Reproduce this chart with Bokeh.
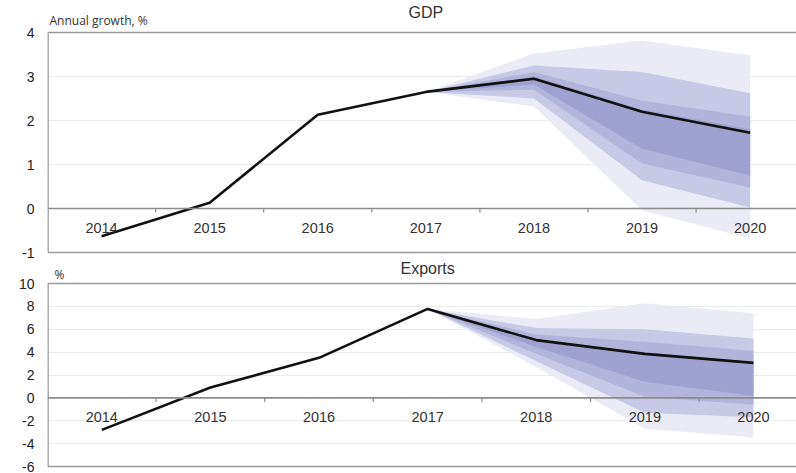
from bokeh.plotting import figure
from bokeh.models import Span, FixedTicker, Range1d
from bokeh.layouts import column
from bokeh.embed import file_html
from bokeh.resources import INLINE
from bokeh.core.properties import value

# ---------------- data ----------------
years = [2014, 2015, 2016, 2017, 2018, 2019, 2020]
year_labels = ["2014", "2015", "2016", "2017", "2018", "2019", "2020"]

gdp = [-0.63, 0.13, 2.13, 2.65, 2.95, 2.20, 1.72]
exports = [-2.80, 0.90, 3.50, 7.78, 5.05, 3.85, 3.06]

fan_years = [2017, 2018, 2019, 2020]

# GDP fan bands, widest (lightest) to narrowest (darkest)
gdp_b1_hi = [2.65, 3.52, 3.82, 3.48]
gdp_b1_lo = [2.65, 2.32, -0.04, -0.68]
gdp_b2_hi = [2.65, 3.25, 3.10, 2.62]
gdp_b2_lo = [2.65, 2.50, 0.64, 0.02]
gdp_b3_hi = [2.65, 3.10, 2.45, 2.09]
gdp_b3_lo = [2.65, 2.70, 1.02, 0.48]
gdp_b4_hi = [2.65, 3.00, 2.25, 1.80]
gdp_b4_lo = [2.65, 2.82, 1.36, 0.75]

# Exports fan bands
exp_b1_hi = [7.78, 6.90, 8.27, 7.40]
exp_b1_lo = [7.78, 2.70, -2.70, -3.47]
exp_b2_hi = [7.78, 6.10, 6.00, 5.20]
exp_b2_lo = [7.78, 3.20, -1.30, -1.70]
exp_b3_hi = [7.78, 5.55, 4.90, 4.10]
exp_b3_lo = [7.78, 3.85, 0.10, -0.60]
exp_b4_hi = [7.78, 5.15, 3.95, 3.15]
exp_b4_lo = [7.78, 4.45, 1.40, 0.17]

gdp_ticks = [-1, 0, 1, 2, 3, 4]
gdp_tick_labels = ["-1", "0", "1", "2", "3", "4"]
exp_ticks = [-6, -4, -2, 0, 2, 4, 6, 8, 10]
exp_tick_labels = ["-6", "-4", "-2", "0", "2", "4", "6", "8", "10"]

band_colors = ["#ebebf6", "#c8c9e6", "#b2b4dc", "#9fa1d1"]

W = 796
FONT = "Liberation Sans"


def make_panel(title, unit, values, bands, ticks, tick_labels, left,
               px_per_year, frame_h, pad_top, pad_bottom, title_gap,
               unit_gap, unit_dx):
    y0, y1 = ticks[0], ticks[-1]
    ppu = frame_h / (y1 - y0)
    frame_w = W - left
    x_start = years[0] - 0.5
    x_end = x_start + frame_w / px_per_year

    p = figure(width=W, height=pad_top + frame_h + pad_bottom,
               x_range=Range1d(x_start, x_end),
               y_range=Range1d(y0 - pad_bottom / ppu, y1 + pad_top / ppu),
               x_axis_location=None, title=None,
               toolbar_location=None, output_backend="svg",
               min_border_left=left, min_border_right=0,
               min_border_top=0, min_border_bottom=0)
    p.background_fill_color = "white"
    p.border_fill_color = "white"
    p.outline_line_color = None

    ax = p.yaxis[0]
    ax.ticker = FixedTicker(ticks=ticks)
    ax.major_label_overrides = dict(zip(ticks, tick_labels))
    ax.major_tick_line_color = None
    ax.minor_tick_line_color = None
    ax.axis_line_color = None
    ax.major_tick_out = 0
    ax.major_tick_in = 0
    ax.major_label_standoff = 13
    ax.major_label_text_font = FONT
    ax.major_label_text_font_size = "14px"
    ax.major_label_text_color = "#222222"

    p.xgrid.visible = False
    p.ygrid.ticker = FixedTicker(ticks=ticks)
    p.ygrid.grid_line_color = "#ebebeb"
    p.ygrid.grid_line_width = 1

    for (hi, lo), col in zip(bands, band_colors):
        p.varea(x=fan_years, y1=lo, y2=hi, fill_color=col, fill_alpha=1.0)

    # chart-area border
    p.quad(left=[x_start + 0.5 / px_per_year], right=[x_end + 1.0],
           bottom=[y0], top=[y1], fill_color=None,
           line_color="#9a9a9a", line_width=1.6)

    p.add_layout(Span(location=0, dimension="width",
                      line_color="#8c8c8c", line_width=1.6))

    bounds = [y + 0.5 for y in years[:-1]]
    p.segment(x0=bounds, y0=[0] * len(bounds), x1=bounds,
              y1=[-4 / ppu] * len(bounds), line_color="#8c8c8c", line_width=1.2)

    p.line(years, values, line_color="#111111", line_width=2.6)

    p.text(x=years, y=[-19 / ppu] * len(years), text=year_labels,
           text_align="center", text_baseline="middle",
           text_font=value(FONT), text_font_size="14.5px", text_color="#333333")

    p.text(x=[sum(years) / len(years)], y=[y1 + title_gap / ppu], text=[title],
           text_align="center", text_baseline="middle",
           text_font=value(FONT), text_font_size="16px", text_color="#333333")
    p.text(x=[x_start + unit_dx / px_per_year], y=[y1 + unit_gap / ppu], text=[unit],
           text_align="left", text_baseline="middle",
           text_font=value("Open Sans"), text_font_size="12px",
           text_color="#333333")
    return p


p1 = make_panel("GDP", "Annual growth, %", gdp,
                [(gdp_b1_hi, gdp_b1_lo), (gdp_b2_hi, gdp_b2_lo),
                 (gdp_b3_hi, gdp_b3_lo), (gdp_b4_hi, gdp_b4_lo)],
                gdp_ticks, gdp_tick_labels, left=47, px_per_year=108.1,
                frame_h=220, pad_top=32, pad_bottom=8,
                title_gap=20, unit_gap=12, unit_dx=2)

p2 = make_panel("Exports", "%", exports,
                [(exp_b1_hi, exp_b1_lo), (exp_b2_hi, exp_b2_lo),
                 (exp_b3_hi, exp_b3_lo), (exp_b4_hi, exp_b4_lo)],
                exp_ticks, exp_tick_labels, left=45, px_per_year=108.9,
                frame_h=183, pad_top=23, pad_bottom=7,
                title_gap=15, unit_gap=9, unit_dx=7)

layout = column(p1, p2, spacing=0)
open("out.html", "w").write(file_html(layout, INLINE))
